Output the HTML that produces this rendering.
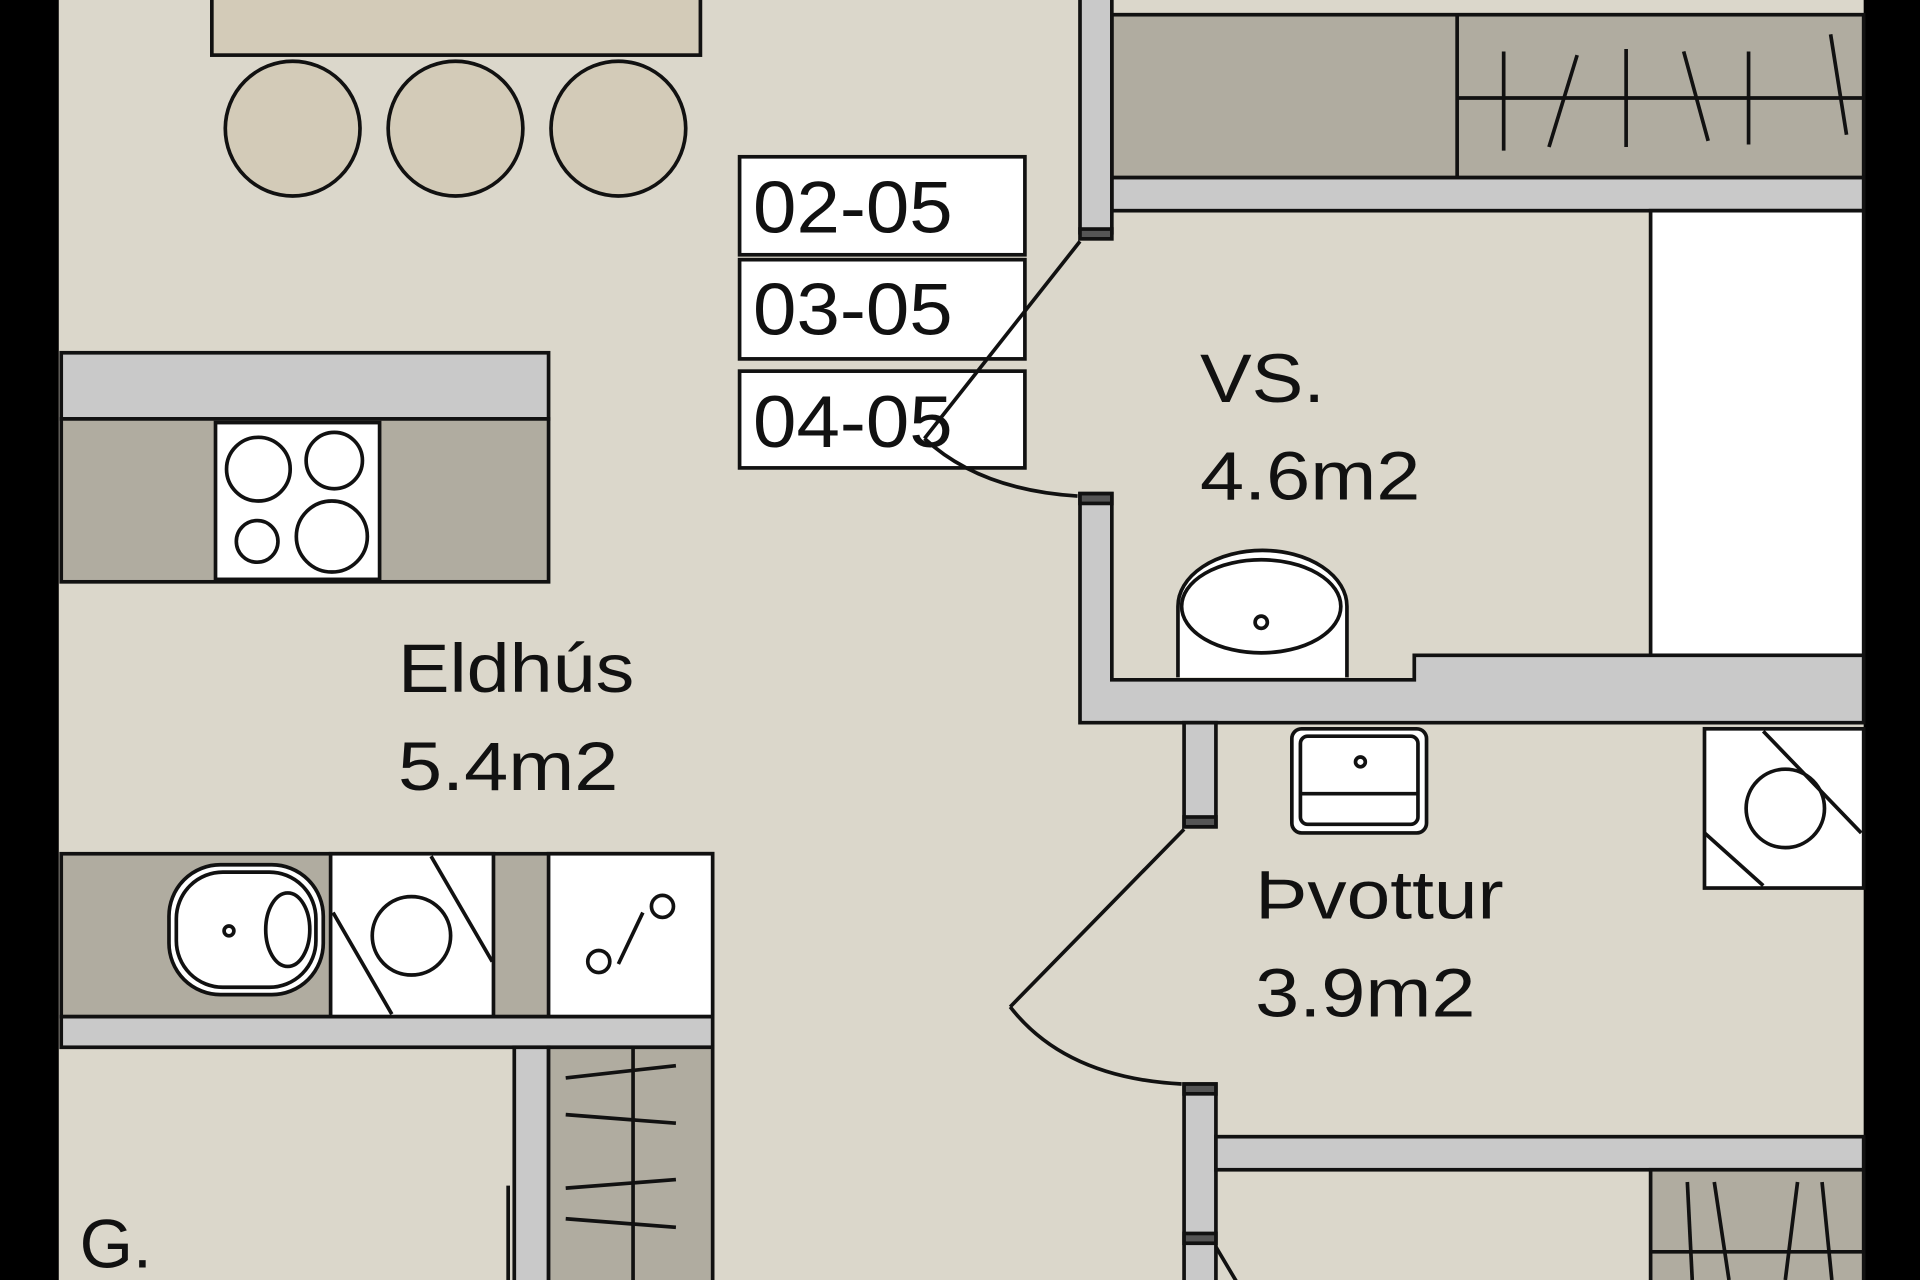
<!DOCTYPE html>
<html><head><meta charset="utf-8"><style>
html,body{margin:0;padding:0;background:#000;}
svg{display:block;}
text{font-family:"Liberation Sans",sans-serif;fill:#111;}
</style></head><body>
<svg width="1920" height="1280" viewBox="0 0 1568 1045" preserveAspectRatio="none" xmlns="http://www.w3.org/2000/svg">
<rect x="0" y="0" width="1568" height="1045" fill="#000"/>
<rect x="48" y="0" width="1474" height="1045" fill="#dbd7cb"/>
<g stroke="#111" stroke-width="3">
<rect x="173" y="-10" width="399" height="55" fill="#d3cbb8"/>
<circle cx="239" cy="105" r="55" fill="#d3cbb8"/>
<circle cx="372" cy="105" r="55" fill="#d3cbb8"/>
<circle cx="505" cy="105" r="55" fill="#d3cbb8"/>
<rect x="604" y="128" width="233" height="80" fill="#fff"/>
<rect x="604" y="212" width="233" height="81" fill="#fff"/>
<rect x="604" y="303" width="233" height="79" fill="#fff"/>
<rect x="908" y="12" width="614" height="133" fill="#b0aca0"/>
<line x1="1190" y1="12" x2="1190" y2="145"/>
<line x1="1190" y1="80" x2="1522" y2="80"/>
<line x1="1228" y1="42" x2="1228" y2="123"/>
<line x1="1288" y1="45" x2="1265" y2="120"/>
<line x1="1328" y1="40" x2="1328" y2="120"/>
<line x1="1375" y1="42" x2="1395" y2="115"/>
<line x1="1428" y1="42" x2="1428" y2="118"/>
<line x1="1495" y1="28" x2="1508" y2="110"/>
<rect x="908" y="145" width="614" height="27" fill="#c9c9c9"/>
<rect x="1348" y="172" width="174" height="363" fill="#fff"/>
<rect x="882" y="-5" width="26" height="195" fill="#c9c9c9"/>
<rect x="882" y="187" width="26" height="8" fill="#555"/>
<path d="M882 403 L908 403 L908 555 L1155 555 L1155 535 L1522 535 L1522 590 L882 590 Z" fill="#c9c9c9"/>
<rect x="882" y="403" width="26" height="8" fill="#555"/>
<path d="M962 553 L962 495 A68 45 0 0 1 1100 495 L1100 553" fill="#fff"/>
<ellipse cx="1030" cy="495" rx="65" ry="38" fill="#fff"/>
<circle cx="1030" cy="508" r="5" fill="#fff"/>
<rect x="50" y="288" width="398" height="54" fill="#c9c9c9"/>
<rect x="50" y="342" width="398" height="133" fill="#b0aca0"/>
<rect x="176" y="345" width="134" height="128" fill="#fff"/>
<circle cx="211" cy="383" r="26" fill="#fff"/>
<circle cx="273" cy="376" r="23" fill="#fff"/>
<circle cx="210" cy="442" r="17" fill="#fff"/>
<circle cx="271" cy="438" r="29" fill="#fff"/>
<rect x="50" y="697" width="532" height="133" fill="#b0aca0"/>
<rect x="138" y="706" width="126" height="106" rx="42" fill="#fff"/>
<rect x="144" y="712" width="114" height="94" rx="38" fill="#fff"/>
<ellipse cx="235" cy="759" rx="18" ry="30" fill="#fff"/>
<circle cx="187" cy="760" r="4" fill="#fff"/>
<rect x="270" y="697" width="133" height="133" fill="#fff"/>
<line x1="272" y1="745" x2="320" y2="828"/>
<line x1="352" y1="699" x2="402" y2="785"/>
<circle cx="336" cy="764" r="32" fill="none"/>
<rect x="448" y="697" width="134" height="133" fill="#fff"/>
<line x1="505" y1="787" x2="525" y2="745"/>
<circle cx="489" cy="785" r="9" fill="#fff"/>
<circle cx="541" cy="740" r="9" fill="#fff"/>
<rect x="50" y="830" width="532" height="25" fill="#c9c9c9"/>
<rect x="420" y="855" width="28" height="200" fill="#c9c9c9"/>
<line x1="415" y1="968" x2="415" y2="1045"/>
<rect x="448" y="855" width="134" height="200" fill="#b0aca0"/>
<line x1="517" y1="855" x2="517" y2="1045"/>
<line x1="462" y1="880" x2="552" y2="870"/>
<line x1="462" y1="910" x2="552" y2="917"/>
<line x1="462" y1="970" x2="552" y2="963"/>
<line x1="462" y1="995" x2="552" y2="1002"/>
<rect x="967" y="590" width="26" height="85" fill="#c9c9c9"/>
<rect x="967" y="667" width="26" height="8" fill="#555"/>
<line x1="967" y1="677" x2="825" y2="822"/>
<path d="M825 822 Q870 880 965 885" fill="none"/>
<rect x="967" y="885" width="26" height="175" fill="#c9c9c9"/>
<rect x="967" y="885" width="26" height="8" fill="#555"/>
<rect x="967" y="1007" width="26" height="8" fill="#555"/>
<line x1="993" y1="1018" x2="1012" y2="1050"/>
<rect x="993" y="928" width="529" height="27" fill="#c9c9c9"/>
<rect x="1348" y="955" width="174" height="100" fill="#b0aca0"/>
<line x1="1348" y1="1022" x2="1522" y2="1022"/>
<line x1="1378" y1="965" x2="1382" y2="1045"/>
<line x1="1400" y1="965" x2="1412" y2="1045"/>
<line x1="1468" y1="965" x2="1458" y2="1045"/>
<line x1="1488" y1="965" x2="1496" y2="1045"/>
<rect x="1055" y="595" width="110" height="85" rx="8" fill="#fff"/>
<rect x="1062" y="601" width="96" height="72" rx="6" fill="#fff"/>
<circle cx="1111" cy="622" r="4" fill="#fff"/>
<line x1="1062" y1="648" x2="1158" y2="648"/>
<rect x="1392" y="595" width="130" height="130" fill="#fff"/>
<line x1="1392" y1="680" x2="1440" y2="723"/>
<line x1="1440" y1="597" x2="1520" y2="680"/>
<circle cx="1458" cy="660" r="32" fill="none"/>
</g>
<g font-size="60">
<text x="615" y="190" textLength="163" lengthAdjust="spacingAndGlyphs">02-05</text>
<text x="615" y="273" textLength="163" lengthAdjust="spacingAndGlyphs">03-05</text>
<text x="615" y="365" textLength="163" lengthAdjust="spacingAndGlyphs">04-05</text>
</g>
<line x1="882" y1="197" x2="755" y2="358" stroke="#111" stroke-width="3"/>
<path d="M755 358 Q800 400 880 405" fill="none" stroke="#111" stroke-width="3"/>
<g font-size="56">
<text x="980" y="328" textLength="102" lengthAdjust="spacingAndGlyphs">VS.</text>
<text x="980" y="408" textLength="180" lengthAdjust="spacingAndGlyphs">4.6m2</text>
<text x="325" y="565" textLength="193" lengthAdjust="spacingAndGlyphs">Eldhús</text>
<text x="325" y="645" textLength="180" lengthAdjust="spacingAndGlyphs">5.4m2</text>
<text x="1025" y="750" textLength="203" lengthAdjust="spacingAndGlyphs">Þvottur</text>
<text x="1025" y="830" textLength="180" lengthAdjust="spacingAndGlyphs">3.9m2</text>
<text x="65" y="1035">G.</text>
</g>
</svg>
</body></html>
